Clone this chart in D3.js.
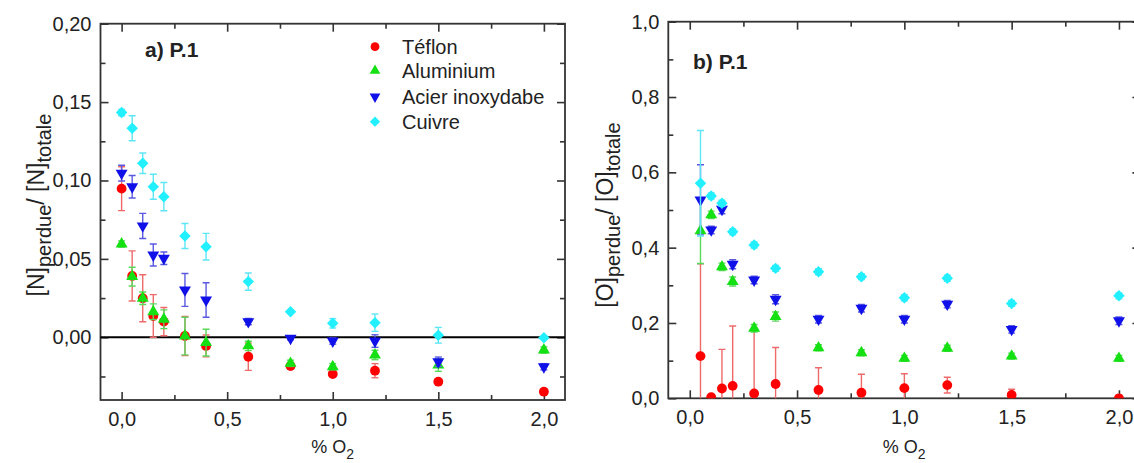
<!DOCTYPE html>
<html>
<head>
<meta charset="utf-8">
<script src="https://cdn.jsdelivr.net/npm/d3@7"></script>
<style>
  html, body { margin: 0; padding: 0; background: #fff; }
  svg { display: block; }
  text { font-family: "Liberation Sans", Arial, sans-serif; fill: #222; }
</style>
</head>
<body>
<svg id="chart" width="1134" height="463"></svg>
<script>
// ---- Panel a) : nitrogen loss ratio vs % O2 ----
const xN = [0, 0.05, 0.1, 0.15, 0.2, 0.3, 0.4, 0.6, 0.8, 1.0, 1.2, 1.5, 2.0];
const teflonN      = [0.0948, 0.0391, 0.0249, 0.0136, 0.0100, 0.0008, -0.0055, -0.0124, -0.0183, -0.0234, -0.0213, -0.0283, -0.0347];
const teflonNErr   = [0.0140, 0.0160, 0.0150, 0.0136, 0.0090, 0.0125, 0.0070, 0.0087, 0.0015, 0.0015, 0.0045, 0.0015, 0.0015];
const aluminiumN    = [0.0595, 0.0387, 0.0249, 0.0163, 0.0115, 0.0008, -0.0034, -0.0055, -0.0166, -0.0188, -0.0113, -0.0177, -0.0081];
const aluminiumNErr = [0.0020, 0.0060, 0.0040, 0.0050, 0.0060, 0.0120, 0.0085, 0.0030, 0.0020, 0.0020, 0.0030, 0.0040, 0.0020];
const acierN    = [0.1047, 0.0960, 0.0710, 0.0525, 0.0504, 0.0302, 0.0238, 0.0100, -0.0006, -0.0024, -0.0024, -0.0156, -0.0188];
const acierNErr = [0.0050, 0.0072, 0.0080, 0.0070, 0.0040, 0.0105, 0.0110, 0.0020, 0.0010, 0.0020, 0.0040, 0.0030, 0.0020];
const cuivreN    = [0.1433, 0.1333, 0.1110, 0.0960, 0.0897, 0.0646, 0.0578, 0.0355, 0.0163, 0.0089, 0.0093, 0.0013, -0.0003];
const cuivreNErr = [0.0020, 0.0080, 0.0065, 0.0080, 0.0090, 0.0080, 0.0085, 0.0055, 0.0010, 0.0030, 0.0055, 0.0050, 0.0010];

// ---- Panel b) : oxygen loss ratio vs % O2 ----
const xO = [0.05, 0.1, 0.15, 0.2, 0.3, 0.4, 0.6, 0.8, 1.0, 1.2, 1.5, 2.0];
const teflonO      = [0.112, 0.003, 0.026, 0.033, 0.013, 0.038, 0.022, 0.015, 0.027, 0.035, 0.009, 0.000];
const teflonOErr   = [0.245, 0.005, 0.104, 0.159, 0.172, 0.097, 0.059, 0.049, 0.038, 0.021, 0.015, 0.005];
const aluminiumO    = [0.445, 0.487, 0.349, 0.310, 0.186, 0.217, 0.134, 0.121, 0.106, 0.133, 0.112, 0.106];
const aluminiumOErr = [0.087, 0.010, 0.010, 0.012, 0.010, 0.012, 0.008, 0.008, 0.008, 0.008, 0.008, 0.008];
const acierO    = [0.527, 0.447, 0.502, 0.356, 0.314, 0.263, 0.210, 0.239, 0.210, 0.250, 0.183, 0.206];
const acierOErr = [0.093, 0.010, 0.012, 0.012, 0.010, 0.012, 0.010, 0.010, 0.010, 0.010, 0.010, 0.010];
const cuivreO    = [0.571, 0.537, 0.518, 0.442, 0.407, 0.345, 0.336, 0.323, 0.267, 0.319, 0.252, 0.272];
const cuivreOErr = [0.140, 0.008, 0.008, 0.008, 0.008, 0.008, 0.008, 0.008, 0.008, 0.008, 0.008, 0.008];

// ---- Legend / series styling ----
const seriesNames = ["Téflon", "Aluminium", "Acier inoxydabe", "Cuivre"];
const seriesColors = ["#ff0000", "#14e014", "#1010e8", "#22f0ff"];
const errColors    = ["#ee6a6a", "#5ad85a", "#5a5ae0", "#5ee6f4"];
const symbolTypes  = [d3.symbolCircle, d3.symbolTriangle, d3.symbolTriangle, d3.symbolSquare];
const symbolSizes  = [76, 62, 62, 66];
const symbolRotate = [0, 0, 180, 45];

// ---- Axis ticks ----
const xMajor = [0, 0.5, 1.0, 1.5, 2.0];
const xMinor = [0.25, 0.75, 1.25, 1.75];
const yMajorN = [0, 0.05, 0.10, 0.15, 0.20];
const yMinorN = [-0.025, 0.025, 0.075, 0.125, 0.175];
const yMajorO = [0, 0.2, 0.4, 0.6, 0.8, 1.0];
const yMinorO = [0.1, 0.3, 0.5, 0.7, 0.9];

const svg = d3.select("#chart");
svg.append("rect").attr("width", 1134).attr("height", 463).attr("fill", "#fff");

const comma = f => v => d3.format(f)(v).replace(".", ",").replace("−", "-");

function drawPanel(cfg) {
  const { id, left, right, top, bottom, xDomain, yDomain } = cfg;
  const x = d3.scaleLinear().domain(xDomain).range([left, right]);
  const y = d3.scaleLinear().domain(yDomain).range([bottom, top]);
  const g = svg.append("g");

  const clipId = "clip-" + id;
  g.append("clipPath").attr("id", clipId)
    .append("rect").attr("x", left).attr("y", top)
    .attr("width", right - left).attr("height", bottom - top);

  // ticks on all four sides, pointing inward
  const tickStyle = sel => {
    sel.select(".domain").remove();
    sel.selectAll("line").attr("stroke", "#333").attr("stroke-width", 1.6);
    sel.selectAll("text").attr("font-size", 20).attr("fill", "#222")
      .style("font-family", '"Liberation Sans", Arial, sans-serif');
  };
  g.append("g").attr("transform", `translate(0,${bottom})`)
    .call(d3.axisBottom(x).tickValues(xMajor).tickFormat(comma(".1f")).tickSizeInner(-8).tickSizeOuter(0).tickPadding(12))
    .call(tickStyle);
  g.append("g").attr("transform", `translate(0,${bottom})`)
    .call(d3.axisBottom(x).tickValues(xMinor).tickFormat("").tickSizeInner(-5).tickSizeOuter(0))
    .call(tickStyle);
  g.append("g").attr("transform", `translate(0,${top})`)
    .call(d3.axisTop(x).tickValues(xMajor).tickFormat("").tickSizeInner(-8).tickSizeOuter(0))
    .call(tickStyle);
  g.append("g").attr("transform", `translate(0,${top})`)
    .call(d3.axisTop(x).tickValues(xMinor).tickFormat("").tickSizeInner(-5).tickSizeOuter(0))
    .call(tickStyle);
  g.append("g").attr("transform", `translate(${left},0)`)
    .call(d3.axisLeft(y).tickValues(cfg.yMajor).tickFormat(comma(cfg.yFormat)).tickSizeInner(-8).tickSizeOuter(0).tickPadding(9))
    .call(tickStyle);
  g.append("g").attr("transform", `translate(${left},0)`)
    .call(d3.axisLeft(y).tickValues(cfg.yMinor).tickFormat("").tickSizeInner(-5).tickSizeOuter(0))
    .call(tickStyle);
  g.append("g").attr("transform", `translate(${right},0)`)
    .call(d3.axisRight(y).tickValues(cfg.yMajor).tickFormat("").tickSizeInner(-8).tickSizeOuter(0))
    .call(tickStyle);
  g.append("g").attr("transform", `translate(${right},0)`)
    .call(d3.axisRight(y).tickValues(cfg.yMinor).tickFormat("").tickSizeInner(-5).tickSizeOuter(0))
    .call(tickStyle);

  // frame
  g.append("rect").attr("x", left).attr("y", top)
    .attr("width", right - left).attr("height", bottom - top)
    .attr("fill", "none").attr("stroke", "#333").attr("stroke-width", 1.8);

  // zero reference line
  if (cfg.zeroLine) {
    g.append("line").attr("x1", left).attr("x2", right)
      .attr("y1", y(0)).attr("y2", y(0))
      .attr("stroke", "#000").attr("stroke-width", 2);
  }

  // data: error bars then markers, series by series
  const plot = g.append("g").attr("clip-path", `url(#${clipId})`);
  cfg.series.forEach((s, i) => {
    const pts = cfg.xs.map((xv, k) => ({ x: xv, v: s.values[k], e: s.errs[k] }));
    const sg = plot.append("g");
    const eb = sg.append("g").attr("stroke", errColors[i]).attr("stroke-width", 1.4);
    pts.forEach(p => {
      const cx = x(p.x), y1 = y(p.v + p.e), y2 = y(p.v - p.e);
      eb.append("line").attr("x1", cx).attr("x2", cx).attr("y1", y1).attr("y2", y2);
      eb.append("line").attr("x1", cx - 3.5).attr("x2", cx + 3.5).attr("y1", y1).attr("y2", y1);
      eb.append("line").attr("x1", cx - 3.5).attr("x2", cx + 3.5).attr("y1", y2).attr("y2", y2);
    });
    sg.selectAll("path.mark").data(pts).join("path")
      .attr("class", "mark")
      .attr("d", d3.symbol().type(symbolTypes[i]).size(symbolSizes[i]))
      .attr("transform", p => `translate(${x(p.x)},${y(p.v)}) rotate(${symbolRotate[i]})`)
      .attr("fill", seriesColors[i]);
  });

  // panel title
  g.append("text").attr("x", cfg.titleX).attr("y", cfg.titleY)
    .attr("font-size", 21).attr("font-weight", "bold").attr("fill", "#111")
    .text(cfg.title);

  // x axis title: % O2
  const xt = g.append("text").attr("x", (left + Math.min(right, 1140)) / 2).attr("y", 453)
    .attr("text-anchor", "middle").attr("font-size", 18).attr("fill", "#333");
  xt.append("tspan").text("% O");
  xt.append("tspan").attr("font-size", 14).attr("dy", 6).text("2");

  // y axis title with subscripts
  const yt = g.append("text")
    .attr("transform", `translate(${cfg.yTitleX},${cfg.yTitleY}) rotate(-90)`)
    .attr("text-anchor", "middle").attr("font-size", 23).attr("fill", "#222");
  const el = cfg.element;
  yt.append("tspan").text(`[${el}]`);
  yt.append("tspan").attr("font-size", 20).attr("dy", 7).text("perdue");
  yt.append("tspan").attr("dy", -7).text(`/ [${el}]`);
  yt.append("tspan").attr("font-size", 20).attr("dy", 7).text("totale");

  return { x, y, g };
}

drawPanel({
  id: "n", left: 100.5, right: 565, top: 23.7, bottom: 400,
  xDomain: [-0.1, 2.1], yDomain: [-0.04, 0.20],
  yMajor: yMajorN, yMinor: yMinorN, yFormat: ".2f",
  zeroLine: true, xs: xN,
  series: [
    { values: teflonN, errs: teflonNErr },
    { values: aluminiumN, errs: aluminiumNErr },
    { values: acierN, errs: acierNErr },
    { values: cuivreN, errs: cuivreNErr }
  ],
  title: "a) P.1", titleX: 145, titleY: 57,
  element: "N", yTitleX: 44, yTitleY: 205
});

drawPanel({
  id: "o", left: 668.3, right: 1140.4, top: 21.7, bottom: 398.3,
  xDomain: [-0.1, 2.1], yDomain: [0, 1.0],
  yMajor: yMajorO, yMinor: yMinorO, yFormat: ".1f",
  zeroLine: false, xs: xO,
  series: [
    { values: teflonO, errs: teflonOErr },
    { values: aluminiumO, errs: aluminiumOErr },
    { values: acierO, errs: acierOErr },
    { values: cuivreO, errs: cuivreOErr }
  ],
  title: "b) P.1", titleX: 693, titleY: 69,
  element: "O", yTitleX: 613, yTitleY: 215
});

// legend (inside panel a)
const legend = svg.append("g");
seriesNames.forEach((name, i) => {
  const cy = [46.7, 70.7, 96.7, 121.7][i];
  legend.append("path")
    .attr("d", d3.symbol().type(symbolTypes[i]).size(symbolSizes[i] * 0.8)())
    .attr("transform", `translate(375,${cy}) rotate(${symbolRotate[i]})`)
    .attr("fill", seriesColors[i]);
  legend.append("text").attr("x", 402).attr("y", cy + 7)
    .attr("font-size", 20).attr("fill", "#222").text(name);
});
</script>
</body>
</html>
